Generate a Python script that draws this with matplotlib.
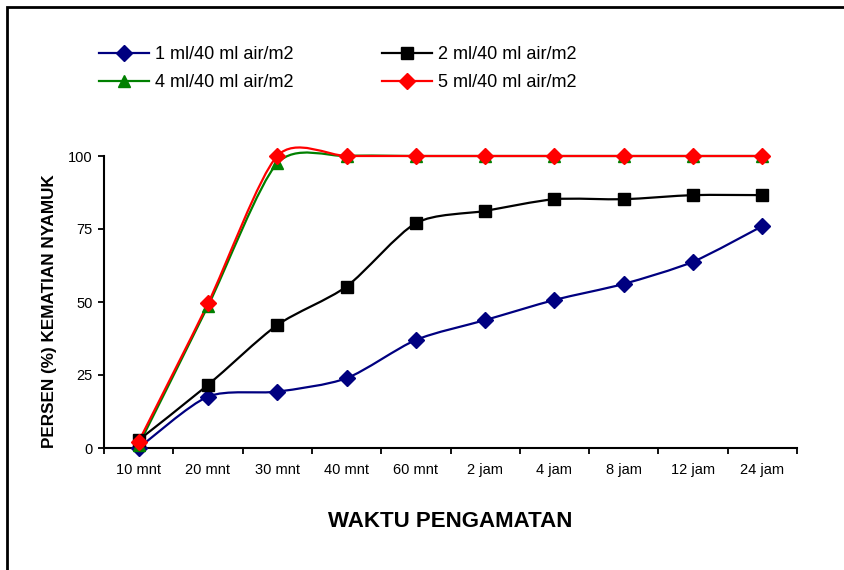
import matplotlib
matplotlib.use('Agg')
import matplotlib.pyplot as plt
from matplotlib.path import Path
from matplotlib.patches import PathPatch, Rectangle
from matplotlib.lines import Line2D

plt.rcParams['font.family'] = ['Liberation Sans', 'DejaVu Sans']

# data
waktu = ['10 mnt', '20 mnt', '30 mnt', '40 mnt', '60 mnt',
         '2 jam', '4 jam', '8 jam', '12 jam', '24 jam']
dosis_1 = [0, 17.6, 19.3, 23.9, 37.0, 43.8, 50.7, 56.2, 63.8, 76.0]
dosis_2 = [2.7, 21.6, 42.1, 55.3, 77.0, 81.2, 85.2, 85.2, 86.6, 86.6]
dosis_4 = [1.0, 48.6, 97.5, 100, 100, 100, 100, 100, 100, 100]
dosis_5 = [2.2, 49.5, 100, 100, 100, 100, 100, 100, 100, 100]
labels = ['1 ml/40 ml air/m2', '2 ml/40 ml air/m2',
          '4 ml/40 ml air/m2', '5 ml/40 ml air/m2']


def smooth_path(x, y, f=0.13):
    # excel-like smoothed line: catmull-rom turned into cubic bezier pieces
    n = len(x)
    verts = [(x[0], y[0])]
    codes = [Path.MOVETO]
    for i in range(n - 1):
        x0, y0 = x[max(i - 1, 0)], y[max(i - 1, 0)]
        x1, y1 = x[i], y[i]
        x2, y2 = x[i + 1], y[i + 1]
        x3, y3 = x[min(i + 2, n - 1)], y[min(i + 2, n - 1)]
        verts += [(x1 + (x2 - x0) * f, y1 + (y2 - y0) * f),
                  (x2 - (x3 - x1) * f, y2 - (y3 - y1) * f),
                  (x2, y2)]
        codes += [Path.CURVE4] * 3
    return Path(verts, codes)


fig = plt.figure(figsize=(8.44, 5.70), dpi=100)
ax = fig.add_axes([104/844, 1 - 448/570, 693/844, 292/570])

series = [
    (dosis_1, '#000080', 'D', 8.5),
    (dosis_2, '#000000', 's', 9.0),
    (dosis_4, '#008000', '^', 8.5),
    (dosis_5, '#ff0000', 'D', 8.5),
]
xs = list(range(len(waktu)))
handles = []
for (vals, col, mk, ms), lab in zip(series, labels):
    ax.add_patch(PathPatch(smooth_path(xs, vals), facecolor='none',
                           edgecolor=col, lw=1.6, clip_on=False, zorder=3))
    ax.plot(xs, vals, linestyle='none', marker=mk, markersize=ms,
            color=col, clip_on=False, zorder=4)
    handles.append(Line2D([], [], color=col, lw=1.6, marker=mk, markersize=ms))

ax.set_xlim(-0.5, 9.5)
ax.set_ylim(0, 100)
ax.set_yticks([0, 25, 50, 75, 100])
ax.set_xticks(xs)
ax.set_xticklabels(waktu)
ax.set_xticks([i - 0.5 for i in range(len(waktu) + 1)], minor=True)
ax.tick_params(axis='x', which='major', length=0, pad=11, labelsize=10.5)
ax.tick_params(axis='x', which='minor', length=4, width=1.3, direction='out')
ax.tick_params(axis='y', length=4, width=1.3, pad=4, labelsize=10.5)
for s in ['top', 'right']:
    ax.spines[s].set_visible(False)
for s in ['left', 'bottom']:
    ax.spines[s].set_linewidth(1.5)

ax.set_xlabel('WAKTU PENGAMATAN', fontsize=16, fontweight='bold')
ax.xaxis.set_label_coords(0.5, -0.215)
ax.set_ylabel('PERSEN (%) KEMATIAN NYAMUK', fontsize=12.3, fontweight='bold')
ax.yaxis.set_label_coords(-0.068, 0.47)

# legend order: column-wise so rows read 1,2 / 4,5
order = [0, 2, 1, 3]
fig.legend([handles[i] for i in order], [labels[i] for i in order],
           ncol=2, frameon=False, fontsize=13, loc='upper left',
           bbox_to_anchor=(99/844, 1 - 46/570), borderpad=0,
           handlelength=2.75, handletextpad=0.35, columnspacing=4.9,
           labelspacing=0.62, borderaxespad=0)

# outer chart border
fig.patches.append(Rectangle((7/844, -0.05), 1.1, 1 - 7/570 + 0.05,
                             transform=fig.transFigure, fill=False,
                             edgecolor='black', lw=2))

plt.savefig('out.png', dpi=100)
